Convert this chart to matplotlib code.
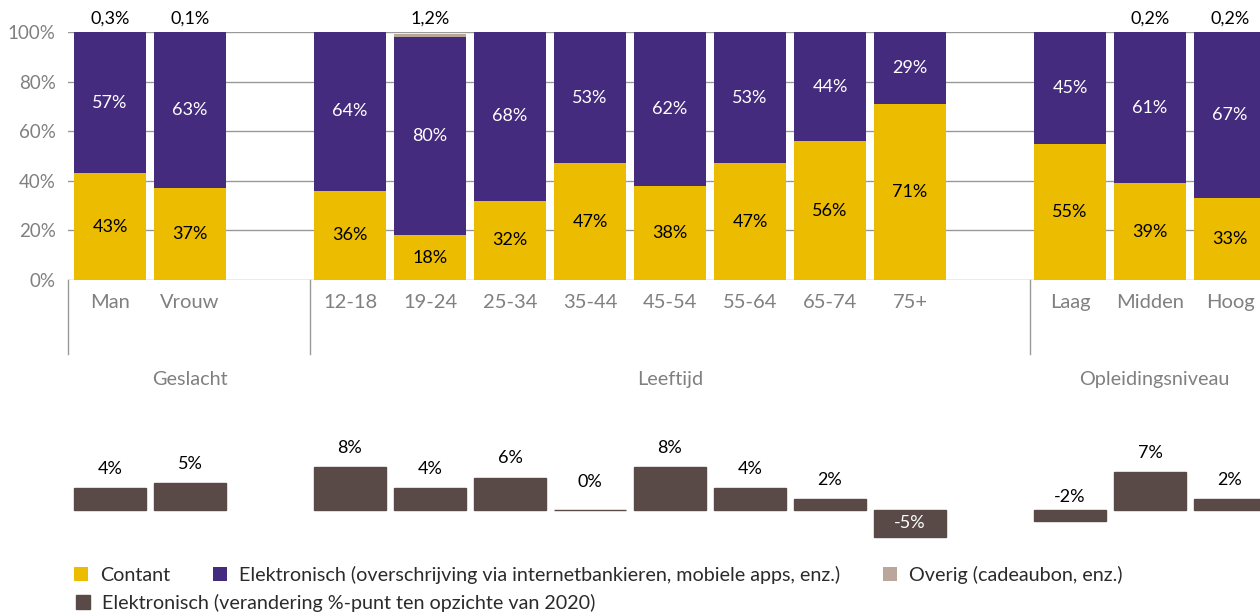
import matplotlib.pyplot as plt
import numpy as np

plt.rcParams['font.family'] = ['Lato', 'DejaVu Sans']

categories = ["Man", "Vrouw", "12-18", "19-24", "25-34", "35-44", "45-54",
              "55-64", "65-74", "75+", "Laag", "Midden", "Hoog"]
contant = [43, 37, 36, 18, 32, 47, 38, 47, 56, 71, 55, 39, 33]
elektronisch = [57, 63, 64, 80, 68, 53, 62, 53, 44, 29, 45, 61, 67]
overig = [0.3, 0.1, 0, 1.2, 0, 0, 0, 0, 0, 0, 0, 0.2, 0.2]
verandering = [4, 5, 8, 4, 6, 0, 8, 4, 2, -5, -2, 7, 2]
groups = ["Geslacht", "Leeftijd", "Opleidingsniveau"]

# slot positions, with an empty slot between the groups
x = np.array([0, 1, 3, 4, 5, 6, 7, 8, 9, 10, 12, 13, 14])
group_x = [1.0, 7.0, 13.05]
sep_x = [-0.525, 2.5, 11.5]

c_cont = "#EBBC00"
c_elek = "#452B7E"
c_over = "#BAA69B"
c_change = "#5A4A47"
grey = "#808080"
fs = 13

fig = plt.figure(figsize=(12.6, 6.12), dpi=100)
ax = fig.add_axes([68 / 1260, 1 - 280 / 612, 1 - 68 / 1260, 248 / 612])
w = 0.89
cont = np.array(contant)
elek = np.array(elektronisch)
b1 = ax.bar(x, cont, w, color=c_cont, zorder=3)
b2 = ax.bar(x, elek, w, bottom=cont, color=c_elek, zorder=3)
b3 = ax.bar(x, overig, w, bottom=cont + elek, color=c_over, zorder=3)

ax.set_xlim(-0.525, 14.375)
ax.set_ylim(0, 100)
ax.set_yticks(range(0, 101, 20))
ax.set_yticklabels([f"{v}%" for v in range(0, 101, 20)])
ax.yaxis.grid(True, color="#999999", lw=1, zorder=0)
ax.set_axisbelow(True)
for s in ax.spines.values():
    s.set_visible(False)
ax.set_xticks(x)
ax.set_xticklabels(categories)
ax.tick_params(axis="x", length=0, pad=10, labelsize=14.5, labelcolor=grey)
ax.tick_params(axis="y", length=0, pad=9, labelsize=13.5, labelcolor=grey)

for xi, c, e, o in zip(x, contant, elektronisch, overig):
    ax.text(xi, c / 2, f"{c}%", ha="center", va="center", fontsize=fs, color="black", zorder=4)
    ax.text(xi, c + e / 2, f"{e}%", ha="center", va="center", fontsize=fs, color="white", zorder=4)
    if o > 0:
        ax.annotate(f"{o:.1f}%".replace(".", ","), (xi, 100), xytext=(0, 9.4),
                    textcoords="offset points", ha="center", va="center",
                    fontsize=fs, color="black", annotation_clip=False)

for sx in sep_x:
    ax.plot([sx, sx], [0, -30], color="#999999", lw=1, clip_on=False)
for gx, g in zip(group_x, groups):
    ax.text(gx, -40.3, g, ha="center", va="center", fontsize=14.3, color=grey)

# change compared to 2020
ax2 = fig.add_axes([68 / 1260, 1 - 545 / 612, 1 - 68 / 1260, 115 / 612])
ax2.bar(x, verandering, w, color=c_change, edgecolor=c_change, lw=1)
ax2.set_xlim(-0.525, 14.375)
ax2.set_ylim(-6.5, 14.8)
ax2.axis("off")
for xi, v in zip(x, verandering):
    if v > 0:
        ax2.annotate(f"{v}%", (xi, v), xytext=(0, 13.7), textcoords="offset points",
                     ha="center", va="center", fontsize=fs, color="black")
    elif v == 0:
        ax2.annotate(f"{v}%", (xi, 0), xytext=(0, 20), textcoords="offset points",
                     ha="center", va="center", fontsize=fs, color="black")
    elif v > -3:
        ax2.annotate(f"{v}%", (xi, 0), xytext=(0, 9.4), textcoords="offset points",
                     ha="center", va="center", fontsize=fs, color="black")
    else:
        ax2.text(xi, v / 2, f"{v}%", ha="center", va="center", fontsize=fs, color="white")

leg_kw = dict(frameon=False, fontsize=14.2, handlelength=0.7, handleheight=0.7,
              handletextpad=0.6, borderpad=0, borderaxespad=0)
leg1 = fig.legend([b1, b2, b3],
                  ["Contant",
                   "Elektronisch (overschrijving via internetbankieren, mobiele apps, enz.)",
                   "Overig (cadeaubon, enz.)"],
                  loc="center left", bbox_to_anchor=(74 / 1260, 1 - 575 / 612),
                  ncol=3, columnspacing=2.2, **leg_kw)
leg2 = fig.legend([plt.Rectangle((0, 0), 1, 1, color=c_change)],
                  ["Elektronisch (verandering %-punt ten opzichte van 2020)"],
                  loc="center left", bbox_to_anchor=(76 / 1260, 1 - 603 / 612), **leg_kw)
for t in leg1.get_texts() + leg2.get_texts():
    t.set_color("#2B2B2B")

fig.savefig("out.png", dpi=100)
